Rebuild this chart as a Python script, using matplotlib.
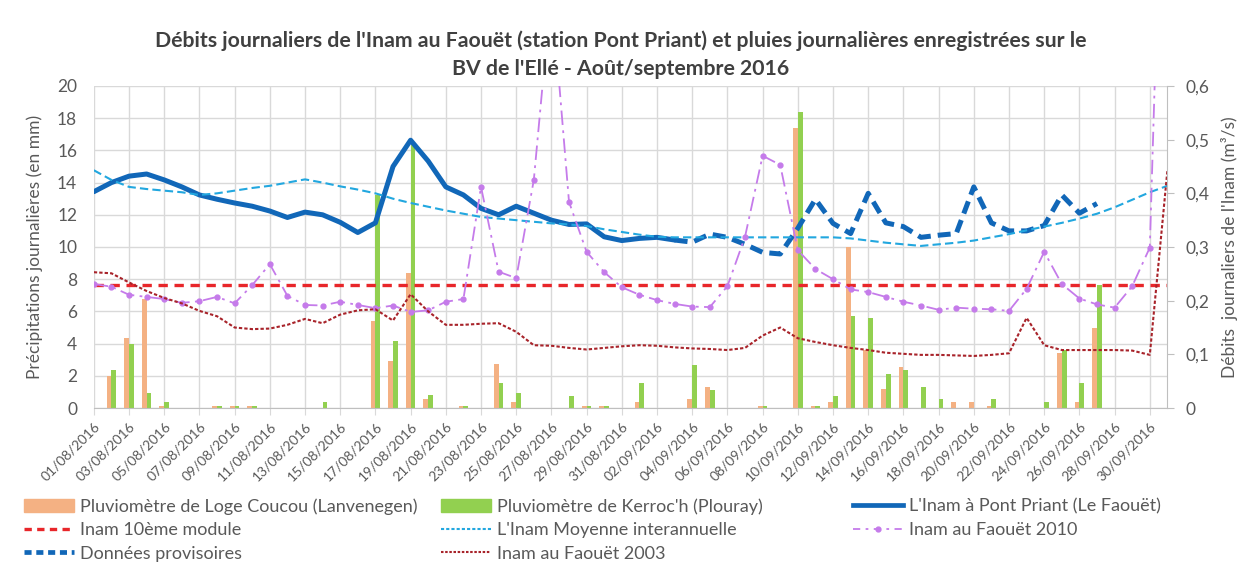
import matplotlib
matplotlib.use('Agg')
import matplotlib.pyplot as plt
import matplotlib.transforms as mtransforms
from matplotlib.patches import Patch
from matplotlib.lines import Line2D
import numpy as np
import pandas as pd

plt.rcParams['font.family'] = ['Lato', 'DejaVu Sans']

# Days from 01/08/2016 to 01/10/2016
days = pd.date_range('2016-08-01', '2016-10-01', freq='D')

# Daily rainfall (mm), 01/08 -> 30/09
rain_loge = [0, 2.0, 4.35, 6.8, 0.15, 0, 0, 0.15, 0.15, 0.15,
             0, 0, 0, 0, 0, 0, 5.4, 2.9, 8.4, 0.55,
             0, 0.1, 0, 2.75, 0.35, 0, 0, 0, 0.15, 0.1,
             0, 0.35, 0, 0, 0.55, 1.3, 0, 0, 0.1, 0,
             17.4, 0.1, 0.35, 10.0, 3.6, 1.15, 2.55, 0, 0, 0.35,
             0.35, 0.1, 0, 0, 0, 3.4, 0.35, 4.95, 0, 0, 0]
rain_kerroch = [0, 2.35, 3.95, 0.95, 0.35, 0, 0, 0.1, 0.1, 0.1,
                0, 0, 0, 0.35, 0, 0, 13.2, 4.15, 16.5, 0.8,
                0, 0.1, 0, 1.55, 0.95, 0, 0, 0.75, 0.1, 0.1,
                0, 1.55, 0, 0, 2.7, 1.1, 0, 0, 0.1, 0,
                18.4, 0.15, 0.75, 5.7, 5.6, 2.1, 2.35, 1.3, 0.55, 0,
                0, 0.55, 0, 0, 0.35, 3.6, 1.55, 7.65, 0, 0, 0]

# Daily flows (m3/s)
pont_priant = [0.403, 0.42, 0.432, 0.436, 0.425, 0.412, 0.397, 0.389, 0.382, 0.376,
               0.367, 0.355, 0.365, 0.36, 0.346, 0.327, 0.345, 0.45, 0.499, 0.46,
               0.412, 0.397, 0.372, 0.36, 0.376, 0.363, 0.35, 0.342, 0.343, 0.319,
               0.312, 0.316, 0.318, 0.313]  # 01/08 -> 03/09
provisoire = [0.313, 0.309, 0.324, 0.318, 0.305, 0.29, 0.287, 0.335, 0.389, 0.344,
              0.325, 0.40, 0.345, 0.338, 0.318, 0.322, 0.325, 0.412, 0.345, 0.33,
              0.33, 0.34, 0.397, 0.363, 0.381]  # 03/09 -> 27/09
interannuelle = [0.443, 0.425, 0.412, 0.408, 0.405, 0.402, 0.397, 0.400, 0.405, 0.410,
                 0.414, 0.420, 0.426, 0.420, 0.413, 0.407, 0.400, 0.390, 0.382, 0.375,
                 0.368, 0.362, 0.356, 0.353, 0.350, 0.347, 0.344, 0.342, 0.339, 0.333,
                 0.328, 0.323, 0.319, 0.318, 0.318, 0.318, 0.318, 0.318, 0.318, 0.318,
                 0.318, 0.318, 0.318, 0.316, 0.312, 0.308, 0.305, 0.302, 0.305, 0.308,
                 0.312, 0.318, 0.324, 0.331, 0.338, 0.345, 0.353, 0.362, 0.374, 0.388,
                 0.402, 0.414]
module_10 = 0.229
faouet_2010 = [0.231, 0.226, 0.211, 0.207, 0.203, 0.196, 0.199, 0.207, 0.195, 0.229,
               0.268, 0.209, 0.192, 0.191, 0.198, 0.192, 0.186, 0.191, 0.179, 0.182,
               0.198, 0.203, 0.412, 0.254, 0.242, 0.425, 0.78, 0.384, 0.291, 0.253,
               0.225, 0.211, 0.201, 0.194, 0.189, 0.188, 0.227, 0.319, 0.47, 0.453,
               0.294, 0.259, 0.240, 0.221, 0.216, 0.207, 0.198, 0.191, 0.183, 0.187,
               0.185, 0.184, 0.181, 0.222, 0.291, 0.231, 0.204, 0.193, 0.187, 0.227,
               0.299, 1.4]
faouet_2003 = [0.253, 0.251, 0.234, 0.218, 0.205, 0.195, 0.181, 0.171, 0.150, 0.147,
               0.148, 0.155, 0.166, 0.158, 0.174, 0.182, 0.184, 0.163, 0.212, 0.18,
               0.155, 0.155, 0.157, 0.158, 0.142, 0.117, 0.116, 0.112, 0.109, 0.112,
               0.115, 0.117, 0.116, 0.113, 0.111, 0.11, 0.108, 0.112, 0.135, 0.150,
               0.130, 0.123, 0.117, 0.112, 0.108, 0.103, 0.101, 0.099, 0.099, 0.098,
               0.097, 0.099, 0.102, 0.168, 0.117, 0.108, 0.108, 0.108, 0.108, 0.107,
               0.099, 0.443]

c_orange = '#F4B183'
c_green = '#92D050'
c_blue = '#1167B8'
c_red = '#E8262A'
c_light = '#22A7DF'
c_violet = '#C57BEA'
c_2003 = '#A8232A'
c_text = '#595959'
c_grid = '#D9D9D9'

fig = plt.figure(figsize=(12.41, 5.62), dpi=100)
ax = fig.add_axes([0.0756, 0.274, 0.8651, 0.573])
ax2 = ax.twinx()

x = np.arange(len(days))
xr = x[:len(rain_loge)]
w = 0.27
ax.bar(xr - w / 2, rain_loge, width=w, color=c_orange, zorder=2)
ax.bar(xr + w / 2, rain_kerroch, width=w, color=c_green, zorder=2)

ax2.plot(x[:len(pont_priant)], pont_priant, color=c_blue, lw=3.6, solid_capstyle='round')
ax2.plot(x[33:33 + len(provisoire)], provisoire, color=c_blue, lw=3.6,
         dashes=(2.6, 1.4))
ax2.axhline(module_10, color=c_red, lw=2.4, dashes=(2.8, 2.0))
ax2.plot(x, interannuelle, color=c_light, lw=1.5, dashes=(4, 2))
ax2.plot(x, faouet_2010, color=c_violet, lw=1.3, dashes=(8, 3, 1.5, 3),
         marker='o', ms=3.5)
ax2.plot(x, faouet_2003, color=c_2003, lw=1.5, dashes=(1.6, 1.0))

# axes
ax.set_xlim(0, 61)
ax.set_ylim(0, 20)
ax2.set_ylim(0, 0.6)
ax.set_axisbelow(True)
ax.set_yticks(np.arange(0, 21, 2))
ax.grid(True, color=c_grid, lw=1)
tick_pos = x[0:61:2]
ax.set_xticks(tick_pos)
ax.set_xticklabels([d.strftime('%d/%m/%Y') for d in days[0:61:2]],
                   rotation=45, ha='right', rotation_mode='anchor')
shift = mtransforms.ScaledTranslation(6 / 100, 0, fig.dpi_scale_trans)
for lab in ax.get_xticklabels():
    lab.set_transform(lab.get_transform() + shift)
ax.tick_params(axis='x', colors=c_text, labelsize=10, length=5, color=c_grid, pad=4)
ax.tick_params(axis='y', colors=c_text, labelsize=12.5, length=0, pad=12)
ax2.set_yticks(np.arange(0, 0.61, 0.1))
ax2.set_yticklabels(['0', '0,1', '0,2', '0,3', '0,4', '0,5', '0,6'])
ax2.tick_params(axis='y', colors=c_text, labelsize=12.5, length=5, color='#BFBFBF', pad=8)
for a in (ax, ax2):
    a.spines['top'].set_visible(False)
    a.spines['left'].set_visible(False)
ax.spines['right'].set_visible(False)
ax2.spines['bottom'].set_visible(False)
ax.spines['bottom'].set_color('#BFBFBF')
ax2.spines['right'].set_color('#BFBFBF')

ax.set_ylabel('Précipitations journalières (en mm)', color=c_text, fontsize=12.5, labelpad=10)
ax2.set_ylabel("Débits  journaliers de l'Inam (m³/s)", color=c_text, fontsize=12.5, labelpad=8)

fig.text(0.5, 0.928, "Débits journaliers de l'Inam au Faouët (station Pont Priant) et pluies journalières enregistrées sur le",
         ha='center', va='center', fontsize=15.3, fontweight='bold', color='#404040')
fig.text(0.5, 0.877, "BV de l'Ellé - Août/septembre 2016",
         ha='center', va='center', fontsize=15.3, fontweight='bold', color='#404040')

# legend, three columns
cols = [
    ([Patch(color=c_orange), Line2D([], [], color=c_red, lw=2.4, dashes=(2.2, 1.6)),
      Line2D([], [], color=c_blue, lw=3.4, dashes=(1.5, 1.0))],
     ['Pluviomètre de Loge Coucou (Lanvenegen)', 'Inam 10ème module', 'Données provisoires'], 0.019),
    ([Patch(color=c_green), Line2D([], [], color=c_light, lw=1.5, dashes=(1.5, 1)),
      Line2D([], [], color=c_2003, lw=1.5, dashes=(1.2, 0.8))],
     ["Pluviomètre de Kerroc'h (Plouray)", "L'Inam Moyenne interannuelle", 'Inam au Faouët 2003'], 0.355),
    ([Line2D([], [], color=c_blue, lw=3.4),
      Line2D([], [], color=c_violet, lw=1.3, dashes=(4, 3, 1.5, 3), marker='o', ms=3.5, markevery=[1])],
     ["L'Inam à Pont Priant (Le Faouët)", 'Inam au Faouët 2010'], 0.687),
]
for handles, labels, xpos in cols:
    fig.legend(handles, labels, loc='upper left', bbox_to_anchor=(xpos, 0.113),
               frameon=False, fontsize=13, handlelength=2.8, handleheight=0.7,
               handletextpad=0.3, labelspacing=0.4, borderpad=0, borderaxespad=0,
               labelcolor=c_text)

fig.savefig('out.png', dpi=100)
